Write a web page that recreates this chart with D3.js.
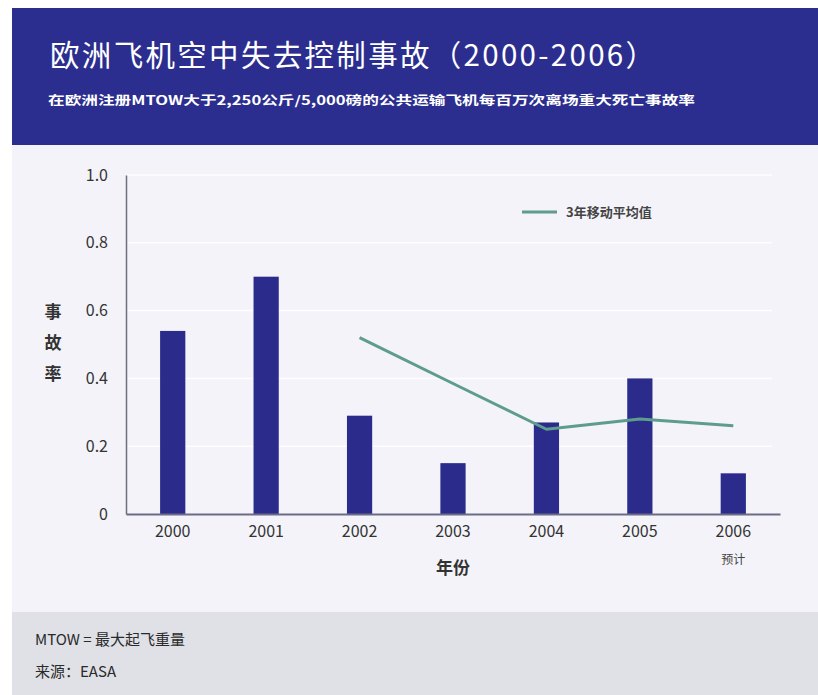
<!DOCTYPE html>
<html>
<head>
<meta charset="utf-8">
<script src="https://cdn.jsdelivr.net/npm/d3@7"></script>
<style>
  html, body { margin: 0; padding: 0; background: #ffffff; }
  svg { display: block; }
  text { font-family: "Noto Sans CJK SC", "Noto Sans", sans-serif; }
</style>
</head>
<body>
<svg id="chart" width="818" height="695"></svg>
<script>
// Fatal-accident rate per million departures, loss of control in flight
const years = ["2000", "2001", "2002", "2003", "2004", "2005", "2006"];
const accidentRate = [0.54, 0.70, 0.29, 0.15, 0.27, 0.40, 0.12];
// Three-year moving average, starting at 2002
const avgYears = ["2002", "2003", "2004", "2005", "2006"];
const movingAvg = [0.52, 0.385, 0.25, 0.28, 0.26];
const yTicks = [0, 0.2, 0.4, 0.6, 0.8, 1.0];
const yTickLabels = ["0", "0.2", "0.4", "0.6", "0.8", "1.0"];

const svg = d3.select("#chart");
const W = 818, H = 695;

// Panels: header, chart area, footer
svg.append("rect").attr("x", 12).attr("y", 8).attr("width", W - 12).attr("height", 137).attr("fill", "#2b2e8e");
svg.append("rect").attr("x", 12).attr("y", 145).attr("width", W - 12).attr("height", 467).attr("fill", "#f3f3f9");
svg.append("rect").attr("x", 12).attr("y", 612).attr("width", W - 12).attr("height", H - 612).attr("fill", "#dfe1e7");

// Title and subtitle
svg.append("text")
  .attr("x", 50).attr("y", 66)
  .attr("fill", "#ffffff")
  .attr("font-size", 29.5)
  .attr("textLength", 605).attr("lengthAdjust", "spacing")
  .text("欧洲飞机空中失去控制事故（2000-2006）");

svg.append("text")
  .attr("x", 48).attr("y", 105)
  .attr("fill", "#ffffff")
  .attr("font-size", 12.5)
  .attr("font-weight", "bold")
  .attr("textLength", 647).attr("lengthAdjust", "spacingAndGlyphs")
  .text("在欧洲注册MTOW大于2,250公斤/5,000磅的公共运输飞机每百万次离场重大死亡事故率");

// Scales
const x = d3.scaleBand().domain(years).range([126, 780]).paddingInner(0.73).paddingOuter(0.365);
const y = d3.scaleLinear().domain([0, 1]).range([514, 175]);

// Faint gridlines
svg.append("g")
  .selectAll("line")
  .data(yTicks.filter(d => d > 0))
  .join("line")
  .attr("x1", 127).attr("x2", 772)
  .attr("y1", d => y(d)).attr("y2", d => y(d))
  .attr("stroke", "#ffffff").attr("stroke-width", 1.5)
  .attr("stroke-opacity", 0.85);

// Bars
svg.append("g")
  .selectAll("rect")
  .data(years.map((yr, i) => ({ yr, v: accidentRate[i] })))
  .join("rect")
  .attr("x", d => x(d.yr))
  .attr("width", x.bandwidth())
  .attr("y", d => y(d.v))
  .attr("height", d => y(0) - y(d.v))
  .attr("fill", "#2b2b8c");

// Y axis
const yAxis = d3.axisLeft(y)
  .tickValues(yTicks)
  .tickFormat((d, i) => yTickLabels[i])
  .tickSize(0)
  .tickPadding(18);
const gy = svg.append("g").attr("transform", "translate(126,0)").call(yAxis);
gy.select(".domain").attr("stroke", "#6e6e7e").attr("stroke-width", 1.5);
gy.selectAll("text")
  .attr("font-family", "'Noto Sans', sans-serif")
  .attr("font-size", 16)
  .attr("fill", "#333333");

// X axis
const xAxis = d3.axisBottom(x).tickSize(0).tickPadding(12);
const gx = svg.append("g").attr("transform", "translate(0,514)").call(xAxis);
gx.select(".domain").attr("stroke", "#6c6c88").attr("stroke-width", 2);
gx.selectAll("text")
  .attr("font-family", "'Noto Sans', sans-serif")
  .attr("font-size", 16)
  .attr("fill", "#333333");

// "预计" note under 2006
svg.append("text")
  .attr("x", x("2006") + x.bandwidth() / 2).attr("y", 564)
  .attr("text-anchor", "middle")
  .attr("font-size", 12)
  .attr("fill", "#444444")
  .text("预计");

// Axis titles
svg.append("text")
  .attr("x", x("2003") + x.bandwidth() / 2).attr("y", 574)
  .attr("text-anchor", "middle")
  .attr("font-size", 17)
  .attr("font-weight", "bold")
  .attr("fill", "#333333")
  .text("年份");

const yTitle = ["事", "故", "率"];
svg.append("g")
  .selectAll("text")
  .data(yTitle)
  .join("text")
  .attr("x", 53)
  .attr("y", (d, i) => 318 + i * 31)
  .attr("text-anchor", "middle")
  .attr("font-size", 17)
  .attr("font-weight", "bold")
  .attr("fill", "#333333")
  .text(d => d);

// Moving-average line
const line = d3.line()
  .x(d => x(d.yr) + x.bandwidth() / 2)
  .y(d => y(d.v));
svg.append("path")
  .datum(avgYears.map((yr, i) => ({ yr, v: movingAvg[i] })))
  .attr("d", line)
  .attr("fill", "none")
  .attr("stroke", "#5e9c8c")
  .attr("stroke-width", 3)
  .attr("stroke-linejoin", "round");

// Legend
svg.append("line")
  .attr("x1", 522).attr("x2", 557).attr("y1", 212).attr("y2", 212)
  .attr("stroke", "#5e9c8c").attr("stroke-width", 3);
svg.append("text")
  .attr("x", 566).attr("y", 217)
  .attr("font-size", 13)
  .attr("font-weight", "bold")
  .attr("fill", "#444444")
  .text("3年移动平均值");

// Footer notes
svg.append("text")
  .attr("x", 35).attr("y", 645)
  .attr("font-size", 15)
  .attr("fill", "#2a2a2a")
  .text("MTOW = 最大起飞重量");
svg.append("text")
  .attr("x", 35).attr("y", 677)
  .attr("font-size", 15)
  .attr("fill", "#2a2a2a")
  .text("来源：EASA");
</script>
</body>
</html>
